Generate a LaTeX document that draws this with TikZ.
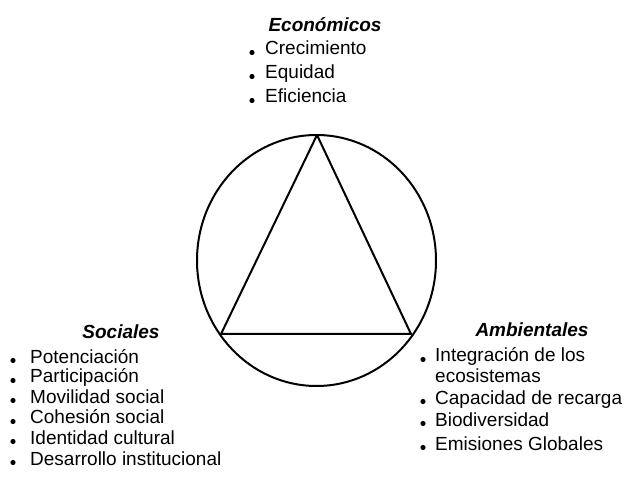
\documentclass[tikz,border=0pt]{standalone}
\usepackage{fontspec}
\setmainfont{Liberation Sans}
\usetikzlibrary{shapes.geometric}
\begin{document}
\begin{tikzpicture}[x=1pt,y=-1pt,
  item/.style={anchor=base west,inner sep=0pt,font=\fontsize{19}{23}\selectfont},
  head/.style={anchor=base,inner sep=0pt,font=\fontsize{19}{23}\selectfont\bfseries\itshape},
  shape line/.style={line width=2pt,line join=round}]
\useasboundingbox (0,0) rectangle (625,484);
% circle and triangle
\node[draw,shape line,ellipse,minimum width=239pt,minimum height=251pt,inner sep=0pt] (ring) at (316.5,260.5) {};
\coordinate (A) at (317,135);
\coordinate (B) at (221,334);
\coordinate (C) at (411,334);
\draw[shape line] (A) -- (B) -- (C) -- cycle;
% Economicos
\node[head] (eh) at (325,32) {Económicos};
\node[item] (e1) at (265,55) {Crecimiento};
\node[item] (e2) at (265,79) {Equidad};
\node[item] (e3) at (265,103) {Eficiencia};
% Sociales
\node[head] (sh) at (121,339) {Sociales};
\node[item] (s1) at (30,363) {Potenciación};
\node[item] (s2) at (30,383) {Participación};
\node[item] (s3) at (30,403) {Movilidad social};
\node[item] (s4) at (30,424) {Cohesión social};
\node[item] (s5) at (30,444) {Identidad cultural};
\node[item] (s6) at (30,465) {Desarrollo institucional};
% Ambientales
\node[head] (ah) at (532,337) {Ambientales};
\node[item] (a1) at (435,362) {Integración de los};
\node[item] (a1b) at (435,382) {ecosistemas};
\node[item] (a2) at (435,404) {Capacidad de recarga};
\node[item] (a3) at (435,426) {Biodiversidad};
\node[item] (a4) at (435,450) {Emisiones Globales};
% bullets
\foreach \n/\d in {e1/13,e2/13,e3/13,s1/17,s2/17,s3/17,s4/17,s5/17,s6/17,a1/12,a2/12,a3/12,a4/12}
  \fill ([xshift=-\d pt,yshift=2.5pt]\n.base west) circle (2.6pt);
\end{tikzpicture}
\end{document}
